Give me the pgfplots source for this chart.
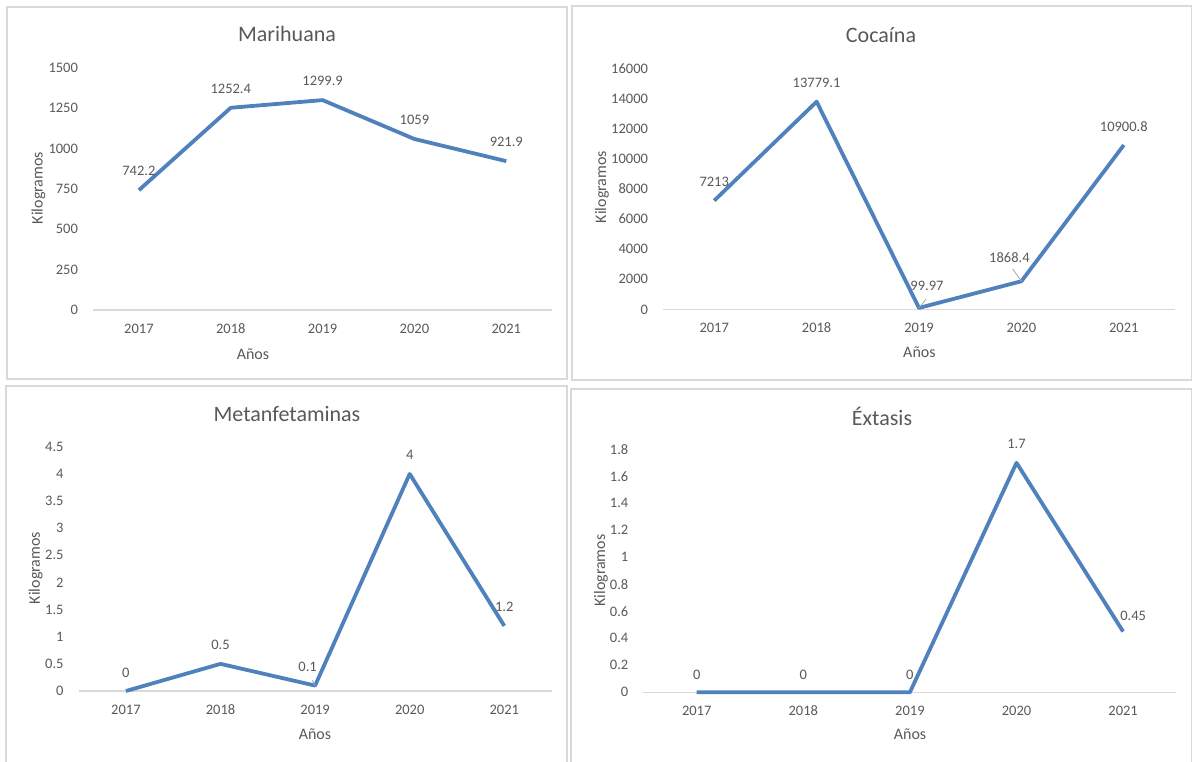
\documentclass[border=0pt]{standalone}
\usepackage{fontspec}
\setmainfont{Carlito}
\usepackage{pgfplots}
\pgfplotsset{compat=1.18}

\definecolor{txtgray}{HTML}{595959}
\definecolor{axisgray}{HTML}{D9D9D9}
\definecolor{framegray}{HTML}{D9D9D9}
\definecolor{lineblue}{HTML}{4F81BD}
\definecolor{leadgray}{HTML}{A6A6A6}

\newcommand{\ticksize}{\fontsize{7.25}{8.7}\selectfont}
\newcommand{\labsize}{\fontsize{8}{9.6}\selectfont}
\newcommand{\titsize}{\fontsize{11}{13.2}\selectfont}

\tikzset{leader/.style={leadgray, line width=0.4pt}}

\pgfplotsset{
  drug/.style={
    scale only axis, anchor=south west, clip=false,
    xmin=-0.5, xmax=4.5, ymin=0,
    xtick={0,...,4}, xticklabels={2017,2018,2019,2020,2021},
    axis x line*=bottom, axis y line*=left,
    y axis line style={draw=none},
    x axis line style={draw=axisgray, line width=0.6pt},
    major tick length=0pt, tick style={draw=none},
    ticklabel style={font=\ticksize, text=txtgray},
    xticklabel style={anchor=base, yshift=-11.8pt},
    yticklabel style={xshift=-4pt},
    scaled y ticks=false,
    /pgf/number format/1000 sep={},
    /pgf/number format/assume math mode=true,
  },
  serie/.style={
    lineblue, line width=1.9pt, line join=round, mark=none,
    nodes near coords, point meta=explicit symbolic,
    nodes near coords align={anchor=center},
    visualization depends on={\thisrow{dx} \as \dx},
    visualization depends on={\thisrow{dy} \as \dy},
    every node near coord/.append style={font=\ticksize, text=txtgray,
      xshift=\dx pt, yshift=\dy pt},
  },
}

\begin{document}
\begin{tikzpicture}
\useasboundingbox (0pt,0pt) rectangle (596pt,380.5pt);

% panel frames
\draw[framegray, line width=0.7pt] (3.5pt,191pt) rectangle (283.5pt,377pt);
\draw[framegray, line width=0.7pt] (286pt,190.5pt) rectangle (595.6pt,377.5pt);
\draw[framegray, line width=0.7pt] (3pt,-1pt) -- (3pt,187.5pt) -- (283.5pt,187.5pt) -- (283.5pt,-1pt);
\draw[framegray, line width=0.7pt] (285.5pt,-1pt) -- (285.5pt,186pt) -- (595.6pt,186pt) -- (595.6pt,-1pt);

% Marihuana
\begin{axis}[drug, at={(46.5pt,225.5pt)}, width=229.6pt, height=121.1pt,
  ymax=1500, ytick={0,250,...,1500}]
\addplot[serie] table[meta=lab] {
x y lab dx dy
0 742.2 742.2 0 9.5
1 1252.4 1252.4 0 9.5
2 1299.9 1299.9 0 9.5
3 1059 1059 0 9.5
4 921.9 921.9 0 9.5
};
\end{axis}

% Cocaina
\begin{axis}[drug, at={(331.5pt,225.8pt)}, width=256pt, height=120.6pt,
  ymax=16000, ytick={0,2000,...,16000}]
\addplot[serie] table[meta=lab] {
x y lab dx dy
0 7213 7213 0 9.5
1 13779.1 13779.1 0 9.5
2 99.97 99.97 4 11.25
3 1868.4 1868.4 -6 12
4 10900.8 10900.8 0 9.3
};
\draw[leader] (axis cs:2,99.97) -- ++(3.6pt,4.5pt);
\draw[leader] (axis cs:3,1868.4) -- ++(-4.4pt,6.2pt);
\end{axis}

% Metanfetaminas
\begin{axis}[drug, at={(39.3pt,35pt)}, width=236.5pt, height=122.1pt,
  ymax=4.5, ytick={0,0.5,...,4.5}]
\addplot[serie] table[meta=lab] {
x y lab dx dy
0 0 0 0 9.2
1 0.5 0.5 0 9.4
2 0.1 0.1 -3.75 9.3
3 4 4 0 9.6
4 1.2 1.2 0 9.3
};
\draw[leader] (axis cs:2,0.1) -- ++(-1.5pt,2.8pt);
\end{axis}

% Extasis
\begin{axis}[drug, at={(321.7pt,34.35pt)}, width=266.5pt, height=121.5pt,
  ymax=1.8, ytick={0,0.2,...,1.8}]
\addplot[serie] table[meta=lab] {
x y lab dx dy
0 0 0 0 8.9
1 0 0 0 8.9
2 0 0 0 8.9
3 1.7 1.7 0 9.5
4 0.45 0.45 5 8
};
\end{axis}

% titles
\node[text=txtgray, font=\titsize] at (143.5pt,363.3pt) {Marihuana};
\node[text=txtgray, font=\titsize] at (440.5pt,363pt) {Cocaína};
\node[text=txtgray, font=\titsize] at (143.5pt,173.3pt) {Metanfetaminas};
\node[text=txtgray, font=\titsize] at (441pt,172.2pt) {Éxtasis};

% axis labels
\node[text=txtgray, font=\labsize] at (126.5pt,203.4pt) {Años};
\node[text=txtgray, font=\labsize] at (459.7pt,204.6pt) {Años};
\node[text=txtgray, font=\labsize] at (157.5pt,13.5pt) {Años};
\node[text=txtgray, font=\labsize] at (455pt,13.4pt) {Años};
\node[text=txtgray, font=\labsize, rotate=90] at (19.2pt,286.5pt) {Kilogramos};
\node[text=txtgray, font=\labsize, rotate=90] at (301pt,287pt) {Kilogramos};
\node[text=txtgray, font=\labsize, rotate=90] at (17.8pt,96.5pt) {Kilogramos};
\node[text=txtgray, font=\labsize, rotate=90] at (300.5pt,95.2pt) {Kilogramos};
\end{tikzpicture}
\end{document}
